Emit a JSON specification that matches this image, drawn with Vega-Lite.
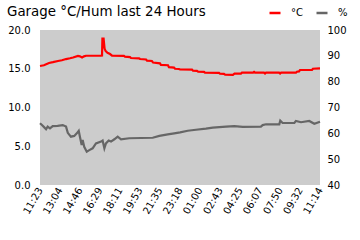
{
  "$schema": "https://vega.github.io/schema/vega-lite/v6.json",
  "autosize": "none",
  "width": 280,
  "height": 155,
  "padding": {"left": 40, "top": 30, "right": 40, "bottom": 55},
  "background": "#ffffff",
  "config": {
    "font": "DejaVu Sans",
    "view": {"fill": "#cccccc", "stroke": null},
    "axis": {"labelFont": "DejaVu Sans", "labelFontSize": 10, "labelColor": "#000000", "ticks": false, "domain": false, "grid": false, "title": null}
  },
  "title": {
    "text": "Garage °C/Hum last 24 Hours",
    "anchor": "start",
    "frame": "group",
    "font": "DejaVu Sans",
    "fontSize": 13.4,
    "fontWeight": "normal",
    "color": "#000000",
    "baseline": "alphabetic",
    "dx": -33,
    "dy": 38,
    "offset": 15
  },
  "data": {
    "values": [
      {"t": "2024-01-01T11:23:00", "s": "°C", "v": 15.35},
      {"t": "2024-01-01T11:43:00", "s": "°C", "v": 15.45},
      {"t": "2024-01-01T12:09:00", "s": "°C", "v": 15.75},
      {"t": "2024-01-01T12:29:00", "s": "°C", "v": 15.85},
      {"t": "2024-01-01T12:55:00", "s": "°C", "v": 16.0},
      {"t": "2024-01-01T13:15:00", "s": "°C", "v": 16.1},
      {"t": "2024-01-01T13:36:00", "s": "°C", "v": 16.25},
      {"t": "2024-01-01T13:56:00", "s": "°C", "v": 16.35},
      {"t": "2024-01-01T14:12:00", "s": "°C", "v": 16.45},
      {"t": "2024-01-01T14:37:00", "s": "°C", "v": 16.65},
      {"t": "2024-01-01T14:47:00", "s": "°C", "v": 16.6},
      {"t": "2024-01-01T14:58:00", "s": "°C", "v": 16.45},
      {"t": "2024-01-01T15:08:00", "s": "°C", "v": 16.6},
      {"t": "2024-01-01T15:18:00", "s": "°C", "v": 16.68},
      {"t": "2024-01-01T16:35:00", "s": "°C", "v": 16.68},
      {"t": "2024-01-01T16:40:00", "s": "°C", "v": 16.7},
      {"t": "2024-01-01T16:42:00", "s": "°C", "v": 18.9},
      {"t": "2024-01-01T16:48:00", "s": "°C", "v": 18.9},
      {"t": "2024-01-01T16:53:00", "s": "°C", "v": 17.6},
      {"t": "2024-01-01T16:58:00", "s": "°C", "v": 17.3},
      {"t": "2024-01-01T17:08:00", "s": "°C", "v": 17.05},
      {"t": "2024-01-01T17:21:00", "s": "°C", "v": 16.9},
      {"t": "2024-01-01T17:31:00", "s": "°C", "v": 16.7},
      {"t": "2024-01-01T18:32:00", "s": "°C", "v": 16.65},
      {"t": "2024-01-01T18:37:00", "s": "°C", "v": 16.56},
      {"t": "2024-01-01T19:03:00", "s": "°C", "v": 16.5},
      {"t": "2024-01-01T19:08:00", "s": "°C", "v": 16.39},
      {"t": "2024-01-01T19:49:00", "s": "°C", "v": 16.35},
      {"t": "2024-01-01T19:54:00", "s": "°C", "v": 16.26},
      {"t": "2024-01-01T20:25:00", "s": "°C", "v": 16.2},
      {"t": "2024-01-01T20:30:00", "s": "°C", "v": 16.04},
      {"t": "2024-01-01T20:55:00", "s": "°C", "v": 16.0},
      {"t": "2024-01-01T21:01:00", "s": "°C", "v": 15.8},
      {"t": "2024-01-01T21:36:00", "s": "°C", "v": 15.7},
      {"t": "2024-01-01T21:41:00", "s": "°C", "v": 15.5},
      {"t": "2024-01-01T22:17:00", "s": "°C", "v": 15.45},
      {"t": "2024-01-01T22:22:00", "s": "°C", "v": 15.2},
      {"t": "2024-01-01T22:48:00", "s": "°C", "v": 15.15},
      {"t": "2024-01-01T22:53:00", "s": "°C", "v": 15.0},
      {"t": "2024-01-01T23:13:00", "s": "°C", "v": 14.97},
      {"t": "2024-01-01T23:19:00", "s": "°C", "v": 14.9},
      {"t": "2024-01-02T00:20:00", "s": "°C", "v": 14.88},
      {"t": "2024-01-02T00:25:00", "s": "°C", "v": 14.75},
      {"t": "2024-01-02T00:45:00", "s": "°C", "v": 14.72},
      {"t": "2024-01-02T00:51:00", "s": "°C", "v": 14.62},
      {"t": "2024-01-02T01:21:00", "s": "°C", "v": 14.6},
      {"t": "2024-01-02T01:26:00", "s": "°C", "v": 14.49},
      {"t": "2024-01-02T02:38:00", "s": "°C", "v": 14.47},
      {"t": "2024-01-02T02:43:00", "s": "°C", "v": 14.36},
      {"t": "2024-01-02T03:03:00", "s": "°C", "v": 14.33},
      {"t": "2024-01-02T03:09:00", "s": "°C", "v": 14.23},
      {"t": "2024-01-02T03:49:00", "s": "°C", "v": 14.2},
      {"t": "2024-01-02T03:57:00", "s": "°C", "v": 14.36},
      {"t": "2024-01-02T04:30:00", "s": "°C", "v": 14.38},
      {"t": "2024-01-02T04:35:00", "s": "°C", "v": 14.49},
      {"t": "2024-01-02T05:32:00", "s": "°C", "v": 14.49},
      {"t": "2024-01-02T05:37:00", "s": "°C", "v": 14.6},
      {"t": "2024-01-02T05:42:00", "s": "°C", "v": 14.49},
      {"t": "2024-01-02T06:28:00", "s": "°C", "v": 14.49},
      {"t": "2024-01-02T06:33:00", "s": "°C", "v": 14.38},
      {"t": "2024-01-02T06:38:00", "s": "°C", "v": 14.49},
      {"t": "2024-01-02T07:45:00", "s": "°C", "v": 14.49},
      {"t": "2024-01-02T07:50:00", "s": "°C", "v": 14.38},
      {"t": "2024-01-02T07:55:00", "s": "°C", "v": 14.49},
      {"t": "2024-01-02T09:11:00", "s": "°C", "v": 14.49},
      {"t": "2024-01-02T09:16:00", "s": "°C", "v": 14.62},
      {"t": "2024-01-02T09:27:00", "s": "°C", "v": 14.65},
      {"t": "2024-01-02T09:32:00", "s": "°C", "v": 14.84},
      {"t": "2024-01-02T10:33:00", "s": "°C", "v": 14.84},
      {"t": "2024-01-02T10:38:00", "s": "°C", "v": 15.0},
      {"t": "2024-01-02T11:14:00", "s": "°C", "v": 15.05},
      {"t": "2024-01-01T11:23:00", "s": "%", "v": 63.9},
      {"t": "2024-01-01T11:33:00", "s": "%", "v": 63.2},
      {"t": "2024-01-01T11:45:00", "s": "%", "v": 62.3},
      {"t": "2024-01-01T11:54:00", "s": "%", "v": 61.6},
      {"t": "2024-01-01T12:02:00", "s": "%", "v": 62.6},
      {"t": "2024-01-01T12:14:00", "s": "%", "v": 61.9},
      {"t": "2024-01-01T12:28:00", "s": "%", "v": 62.8},
      {"t": "2024-01-01T12:53:00", "s": "%", "v": 62.9},
      {"t": "2024-01-01T13:19:00", "s": "%", "v": 63.2},
      {"t": "2024-01-01T13:36:00", "s": "%", "v": 62.6},
      {"t": "2024-01-01T13:45:00", "s": "%", "v": 60.2},
      {"t": "2024-01-01T14:01:00", "s": "%", "v": 58.7},
      {"t": "2024-01-01T14:18:00", "s": "%", "v": 59.0},
      {"t": "2024-01-01T14:31:00", "s": "%", "v": 60.0},
      {"t": "2024-01-01T14:41:00", "s": "%", "v": 61.0},
      {"t": "2024-01-01T14:47:00", "s": "%", "v": 58.7},
      {"t": "2024-01-01T14:56:00", "s": "%", "v": 55.5},
      {"t": "2024-01-01T15:01:00", "s": "%", "v": 57.4},
      {"t": "2024-01-01T15:09:00", "s": "%", "v": 54.8},
      {"t": "2024-01-01T15:22:00", "s": "%", "v": 52.9},
      {"t": "2024-01-01T15:35:00", "s": "%", "v": 53.5},
      {"t": "2024-01-01T15:52:00", "s": "%", "v": 54.2},
      {"t": "2024-01-01T16:09:00", "s": "%", "v": 56.1},
      {"t": "2024-01-01T16:35:00", "s": "%", "v": 56.8},
      {"t": "2024-01-01T16:43:00", "s": "%", "v": 57.2},
      {"t": "2024-01-01T16:52:00", "s": "%", "v": 54.2},
      {"t": "2024-01-01T17:00:00", "s": "%", "v": 56.1},
      {"t": "2024-01-01T17:14:00", "s": "%", "v": 57.2},
      {"t": "2024-01-01T17:26:00", "s": "%", "v": 56.8},
      {"t": "2024-01-01T17:43:00", "s": "%", "v": 57.7},
      {"t": "2024-01-01T18:00:00", "s": "%", "v": 58.7},
      {"t": "2024-01-01T18:17:00", "s": "%", "v": 57.7},
      {"t": "2024-01-01T18:59:00", "s": "%", "v": 58.1},
      {"t": "2024-01-01T20:59:00", "s": "%", "v": 58.3},
      {"t": "2024-01-01T21:33:00", "s": "%", "v": 59.0},
      {"t": "2024-01-01T22:16:00", "s": "%", "v": 59.6},
      {"t": "2024-01-01T22:49:00", "s": "%", "v": 60.0},
      {"t": "2024-01-01T23:19:00", "s": "%", "v": 60.4},
      {"t": "2024-01-01T23:58:00", "s": "%", "v": 61.0},
      {"t": "2024-01-02T00:40:00", "s": "%", "v": 61.4},
      {"t": "2024-01-02T01:31:00", "s": "%", "v": 61.8},
      {"t": "2024-01-02T02:06:00", "s": "%", "v": 62.2},
      {"t": "2024-01-02T03:14:00", "s": "%", "v": 62.6},
      {"t": "2024-01-02T03:56:00", "s": "%", "v": 62.8},
      {"t": "2024-01-02T04:39:00", "s": "%", "v": 62.5},
      {"t": "2024-01-02T06:12:00", "s": "%", "v": 62.6},
      {"t": "2024-01-02T06:21:00", "s": "%", "v": 63.2},
      {"t": "2024-01-02T06:38:00", "s": "%", "v": 63.5},
      {"t": "2024-01-02T07:46:00", "s": "%", "v": 63.5},
      {"t": "2024-01-02T07:51:00", "s": "%", "v": 64.9},
      {"t": "2024-01-02T08:03:00", "s": "%", "v": 64.0},
      {"t": "2024-01-02T09:03:00", "s": "%", "v": 64.0},
      {"t": "2024-01-02T09:11:00", "s": "%", "v": 64.8},
      {"t": "2024-01-02T09:37:00", "s": "%", "v": 64.3},
      {"t": "2024-01-02T10:19:00", "s": "%", "v": 64.8},
      {"t": "2024-01-02T10:45:00", "s": "%", "v": 63.7},
      {"t": "2024-01-02T11:14:00", "s": "%", "v": 64.5}
    ]
  },
  "encoding": {
    "x": {
      "field": "t",
      "type": "temporal",
      "scale": {
        "domain": [
          {"year": 2024, "month": 1, "date": 1, "hours": 11, "minutes": 23},
          {"year": 2024, "month": 1, "date": 2, "hours": 11, "minutes": 14}
        ],
        "nice": false
      },
      "axis": {
        "format": "%H:%M",
        "labelAngle": -60,
        "labelAlign": "right",
        "labelBaseline": "middle",
        "labelPadding": 3,
        "labelOverlap": false,
        "values": [
          {"year": 2024, "month": 1, "date": 1, "hours": 11, "minutes": 23},
          {"year": 2024, "month": 1, "date": 1, "hours": 13, "minutes": 4},
          {"year": 2024, "month": 1, "date": 1, "hours": 14, "minutes": 46},
          {"year": 2024, "month": 1, "date": 1, "hours": 16, "minutes": 29},
          {"year": 2024, "month": 1, "date": 1, "hours": 18, "minutes": 11},
          {"year": 2024, "month": 1, "date": 1, "hours": 19, "minutes": 53},
          {"year": 2024, "month": 1, "date": 1, "hours": 21, "minutes": 35},
          {"year": 2024, "month": 1, "date": 1, "hours": 23, "minutes": 18},
          {"year": 2024, "month": 1, "date": 2, "hours": 1, "minutes": 0},
          {"year": 2024, "month": 1, "date": 2, "hours": 2, "minutes": 43},
          {"year": 2024, "month": 1, "date": 2, "hours": 4, "minutes": 25},
          {"year": 2024, "month": 1, "date": 2, "hours": 6, "minutes": 7},
          {"year": 2024, "month": 1, "date": 2, "hours": 7, "minutes": 50},
          {"year": 2024, "month": 1, "date": 2, "hours": 9, "minutes": 32},
          {"year": 2024, "month": 1, "date": 2, "hours": 11, "minutes": 14}
        ]
      }
    },
    "color": {
      "field": "s",
      "type": "nominal",
      "scale": {"domain": ["°C", "%"], "range": ["#ff0000", "#666666"]},
      "legend": {
        "title": null,
        "orient": "none",
        "direction": "horizontal",
        "legendX": 228,
        "legendY": -24,
        "padding": 0,
        "symbolType": "stroke",
        "symbolSize": 121,
        "symbolStrokeWidth": 2.5,
        "labelOffset": 9,
        "columnPadding": 8,
        "labelFont": "DejaVu Sans",
        "labelFontSize": 10,
        "labelColor": "#000000"
      }
    }
  },
  "layer": [
    {
      "transform": [{"filter": "datum.s === '°C'"}],
      "mark": {"type": "line", "strokeWidth": 2.2, "interpolate": "linear"},
      "encoding": {
        "y": {
          "field": "v",
          "type": "quantitative",
          "scale": {"domain": [0, 20], "nice": false, "zero": false},
          "axis": {"orient": "left", "values": [0, 5, 10, 15, 20], "format": ".1f", "labelPadding": 10}
        }
      }
    },
    {
      "transform": [{"filter": "datum.s === '%'"}],
      "mark": {"type": "line", "strokeWidth": 2.2, "interpolate": "linear"},
      "encoding": {
        "y": {
          "field": "v",
          "type": "quantitative",
          "scale": {"domain": [40, 100], "nice": false, "zero": false},
          "axis": {"orient": "right", "values": [40, 50, 60, 70, 80, 90, 100], "format": "d", "labelPadding": 7}
        }
      }
    }
  ],
  "resolve": {"scale": {"y": "independent"}}
}
